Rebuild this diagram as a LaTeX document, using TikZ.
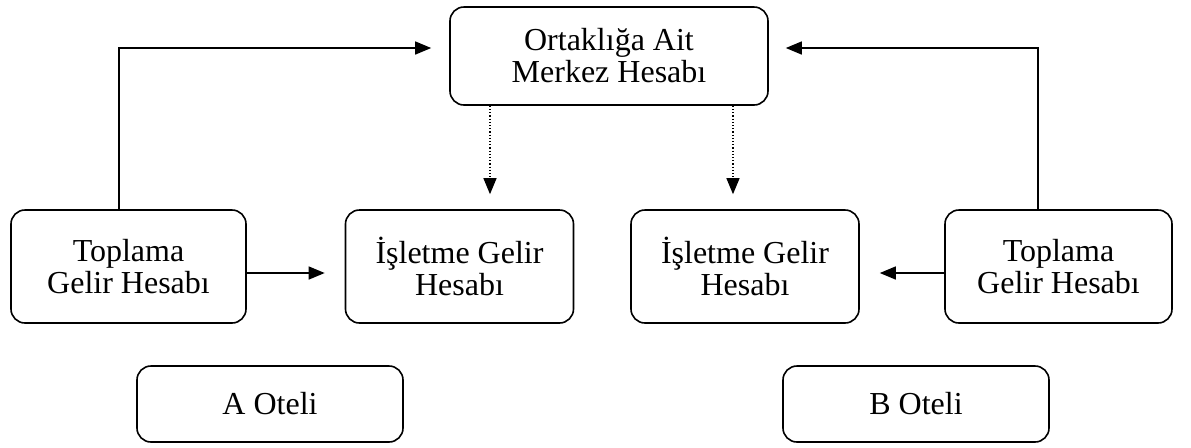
\documentclass[tikz,border=0pt]{standalone}
\usepackage{fontspec}
\setmainfont{Liberation Serif}
\usetikzlibrary{arrows.meta, positioning}
\tikzstyle{account} = [rectangle, rounded corners=7pt,
minimum height=56.5pt,
minimum width=114pt,
align=center,
inner sep=0pt,
draw=black,
line width=0.8pt,
font=\fontsize{16pt}{16pt}\selectfont]
\tikzstyle{hotel} = [account,
minimum width=133pt,
minimum height=38pt]
\tikzstyle{arrow} = [line width=0.7pt, -{Triangle[length=8pt,width=6.5pt]}, shorten >=10pt]
\tikzstyle{dotarrow} = [arrow, line width=0.6pt, densely dotted, shorten >=7.5pt]

\begin{document}
\begin{tikzpicture} [x=0.5pt, y=-0.5pt]
		\useasboundingbox (0,0) rectangle (1191,447);
		\node (merkez) [account, minimum width=159pt, minimum height=49pt] at (609,56) {Ortaklığa Ait\\Merkez Hesabı};
		\node (topA) [account, minimum width=117.5pt] at (128.5,266.5) {Toplama\\Gelir Hesabı};
		\node (islA) [account] at (459.5,266.5) {İşletme Gelir\\Hesabı};
		\node (islB) [account] at (745,266.5) {İşletme Gelir\\Hesabı};
		\node (topB) [account, minimum width=113.5pt] at (1058.5,266.5) {Toplama\\Gelir Hesabı};
		\node (otelA) [hotel] at (270,404) {A Oteli};
		\node (otelB) [hotel] at (916,404) {B Oteli};
		% toplama -> merkez
		\draw [arrow, shorten >=9pt] ([xshift=-4.75pt]topA.north) |- ([yshift=4pt]merkez.west);
		\draw [arrow, shorten >=8.5pt] ([xshift=-10.25pt]topB.north) |- ([yshift=4pt]merkez.east);
		% toplama -> isletme
		\draw [arrow] ([yshift=-3.25pt]topA.east) -- ([yshift=-3.25pt]topA.east -| islA.west);
		\draw [arrow] ([yshift=-3.25pt]topB.west) -- ([yshift=-3.25pt]topB.west -| islB.east);
		% merkez -> isletme (dotted)
		\draw [dotarrow] ([xshift=-59.5pt]merkez.south) -- ([xshift=-59.5pt]merkez.south |- islA.north);
		\draw [dotarrow] ([xshift=62pt]merkez.south) -- ([xshift=62pt]merkez.south |- islB.north);
	\end{tikzpicture}
\end{document}
